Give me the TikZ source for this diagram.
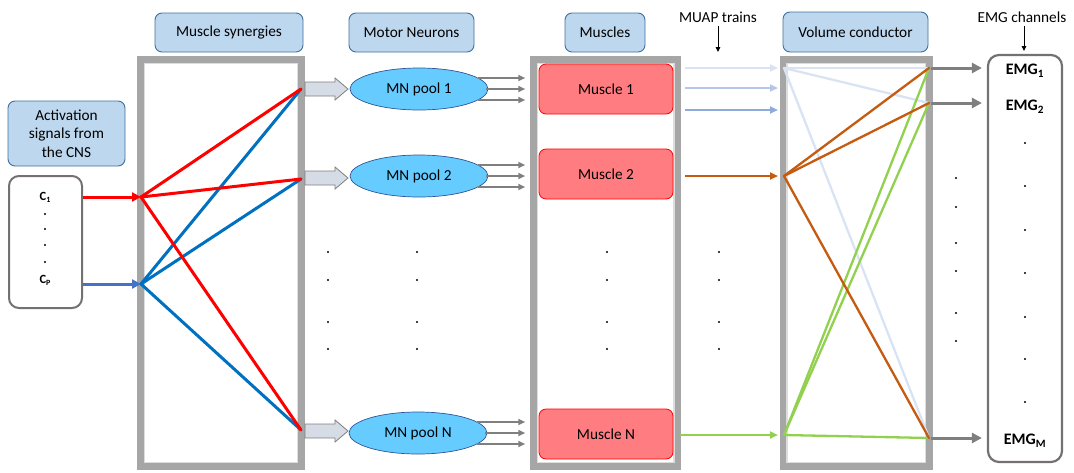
\documentclass[tikz,border=0pt]{standalone}
\usepackage{fontspec}
\setmainfont{Carlito}
\usetikzlibrary{arrows.meta,shapes.geometric}
\definecolor{lblue}{HTML}{BDD7EE}
\definecolor{lblueD}{HTML}{41719C}
\definecolor{frameG}{HTML}{A6A6A6}
\definecolor{frameL}{HTML}{DDDDDD}
\definecolor{poolF}{HTML}{66CCFF}
\definecolor{poolD}{HTML}{2F5597}
\definecolor{musF}{HTML}{FF7C80}
\definecolor{baF}{HTML}{D6DCE5}
\definecolor{grayA}{HTML}{7F7F7F}
\definecolor{boxG}{HTML}{767171}
\definecolor{synR}{HTML}{FF0000}
\definecolor{synB}{HTML}{0070C0}
\definecolor{cpB}{HTML}{4472C4}
\definecolor{mu1}{HTML}{DAE3F3}
\definecolor{mu2}{HTML}{B4C7E7}
\definecolor{mu3}{HTML}{8FAADC}
\definecolor{orng}{HTML}{C55A11}
\definecolor{grn}{HTML}{92D050}
\begin{document}
\begin{tikzpicture}[x=1pt,y=-1pt,
  txt/.style={font=\fontsize{15.3}{18.5}\selectfont},
  lbl/.style={txt, draw=lblueD, fill=lblue, rounded corners=7, line width=0.9, align=center, inner sep=0},
  framebox/.style={draw=frameG, line width=6.5, inner sep=0},
  frameinner/.style={draw=frameL, line width=1.5},
  pool/.style={txt, ellipse, draw=poolD, fill=poolF, line width=0.7, minimum width=138, minimum height=42, inner sep=0},
  musclebox/.style={txt, draw=red, fill=musF, rounded corners=7, line width=0.8, minimum width=134, minimum height=50, inner sep=0},
  blockarr/.style={draw=grayA, fill=baF, line width=0.8, line join=miter},
  grayarr/.style={draw=grayA, line width=2, -{Triangle[length=7,width=6]}},
  emgarr/.style={draw=grayA, line width=3, -{Triangle[length=10,width=10]}},
  synr/.style={draw=synR, line width=3, line cap=round},
  synb/.style={draw=synB, line width=3, line cap=round},
  vline/.style={line width=2.3, line cap=round},
  muap/.style={line width=2.3, -{Triangle[length=8,width=7]}},
  dotc/.style={circle, fill=black, inner sep=0, minimum size=2.3},
  cbx/.style={font=\fontsize{12.5}{14}\selectfont\bfseries},
  emgt/.style={font=\fontsize{16}{18}\selectfont\bfseries},
  darr/.style={draw=black, line width=0.9, -{Triangle[length=5,width=4.5]}}
]
\useasboundingbox (0,0) rectangle (1074,472);

% ---------- top labels ----------
\node[lbl, minimum width=148, minimum height=39] (lsyn) at (229,32.5) {Muscle synergies};
\node[lbl, minimum width=125, minimum height=39] (lmn) at (411.5,32.5) {Motor Neurons};
\node[lbl, minimum width=80, minimum height=39] (lmus) at (605,32.5) {Muscles};
\node[lbl, minimum width=145, minimum height=40] (lvol) at (855.5,32) {Volume conductor};
\node[txt] (lmuap) at (718,17) {MUAP trains};
\coordinate (muapT) at (718,52);
\draw[darr] (lmuap.south) -- (muapT);
\node[txt] (lemg) at (1022,17) {EMG channels};
\coordinate (emgT) at (1024,51);
\draw[darr] (lemg.south -| emgT) -- (emgT);

% ---------- activation signals ----------
\node[lbl, minimum width=117, minimum height=65] (lact) at (66.5,133.5) {Activation\\signals from\\the CNS};
\node[draw=boxG, line width=2, rounded corners=10, minimum width=73, minimum height=132, inner sep=0] (cbox) at (45.5,242) {};
\node[cbx] (c1) at (45,197) {C{\fontsize{8}{9}\selectfont\raisebox{-2pt}{1}}};
\node[cbx] (cp) at (45,280) {C{\fontsize{8}{9}\selectfont\raisebox{-2pt}{P}}};
\foreach \y [count=\i] in {214,229,245,262} \node[dotc] (cd\i) at (45,\y) {};

% ---------- frames ----------
\node[framebox, minimum width=161, minimum height=407] (synF) at (221,263) {};
\draw[frameinner] (144.5,63.5) rectangle (297.5,462.5);
\node[framebox, minimum width=144.5, minimum height=407] (musFr) at (605.75,263) {};
\draw[frameinner] (537.5,63.5) rectangle (674,462.5);
\node[framebox, minimum width=146.5, minimum height=407] (volF) at (856.25,263) {};
\draw[frameinner] (787,63.5) rectangle (925.5,462.5);

% ---------- synergies ----------
\coordinate (sR) at (141,197);
\coordinate (sB) at (141,284);
\coordinate (o1) at (301,89);
\coordinate (o2) at (301,179);
\coordinate (oN) at (301,430);
\draw[draw=synR, line width=3, -{Triangle[length=9,width=9]}] (cbox.east |- sR) -- (sR);
\draw[draw=cpB, line width=3, -{Triangle[length=9,width=9]}] (cbox.east |- sB) -- (sB);
\foreach \o in {o1,o2,oN} \draw[synb] (sB) -- (\o);
\foreach \o in {o1,o2,oN} \draw[synr] (sR) -- (\o);

% ---------- block arrows ----------
\foreach \y in {89,178,431}
  \draw[blockarr] (305,\y-7) -- (335,\y-7) -- (335,\y-11) -- (348,\y) -- (335,\y+11) -- (335,\y+7) -- (305,\y+7) -- cycle;

% ---------- MN pools ----------
\node[pool] (mn1) at (419,89) {MN pool 1};
\node[pool] (mn2) at (419,176) {MN pool 2};
\node[pool] (mnN) at (418,433) {MN pool N};
\foreach \p in {mn1,mn2,mnN} {
  \coordinate (\p a) at ([shift={(-10,-11)}]\p.east);
  \coordinate (\p b) at ([shift={(-2,0)}]\p.east);
  \coordinate (\p c) at ([shift={(-10,11)}]\p.east);
  \coordinate (\p A) at ([xshift=-5]\p a -| musFr.west);
  \coordinate (\p B) at ([xshift=-5]\p b -| musFr.west);
  \coordinate (\p C) at ([xshift=-5]\p c -| musFr.west);
  \draw[grayarr] (\p a) -- (\p A);
  \draw[grayarr] (\p b) -- (\p B);
  \draw[grayarr] (\p c) -- (\p C);
}

% ---------- muscles ----------
\node[musclebox] (m1) at (606,89) {Muscle 1};
\node[musclebox] (m2) at (606,174) {Muscle 2};
\node[musclebox] (mN) at (606,434) {Muscle N};

% ---------- volume conductor ----------
\coordinate (v1) at (784,68);
\coordinate (vO) at (784,176);
\coordinate (vG) at (784,435);
\coordinate (e1) at (929,68);
\coordinate (e2) at (929,103);
\coordinate (eM) at (929,438);
\coordinate (u1) at (685,68);
\coordinate (u2) at (685,88);
\coordinate (u3) at (685,110);
\coordinate (uO) at (685,176);
\coordinate (uG) at (680,435);
\coordinate (w2) at (784,88);
\coordinate (w3) at (784,110);
\draw[muap, draw=mu1] (u1) -- ([xshift=-6]v1);
\draw[muap, draw=mu2] (u2) -- ([xshift=-6]w2);
\draw[muap, draw=mu3] (u3) -- ([xshift=-6]w3);
\draw[muap, draw=orng] (uO) -- ([xshift=-6]vO);
\draw[muap, draw=grn] (uG) -- ([xshift=-6]vG);
\foreach \e in {e1,e2,eM} \draw[vline, draw=mu1] (v1) -- (\e);
\foreach \e in {e1,e2,eM} \draw[vline, draw=grn] (vG) -- (\e);
\foreach \e in {e1,e2,eM} \draw[vline, draw=orng] (vO) -- (\e);

% ---------- EMG ----------
\node[draw=boxG, line width=2.2, rounded corners=11, minimum width=74, minimum height=407, inner sep=0] (emg) at (1025,258.5) {};
\foreach \e in {e1,e2,eM} \draw[emgarr, shorten <=2, shorten >=5] (\e) -- (\e -| emg.west);
\node[emgt] (t1) at (1025,71) {EMG\textsubscript{1}};
\node[emgt] (t2) at (1025,107) {EMG\textsubscript{2}};
\node[emgt] (tM) at (1025,441) {EMG\textsubscript{M}};
\foreach \y [count=\i] in {143,186,230,273,317,359,402} \node[dotc] (ed\i) at (1025,\y) {};

% ---------- middle dots ----------
\foreach \x [count=\j] in {328,417,607,719} {
  \foreach \y [count=\i] in {252,280,322,349} \node[dotc] (md\j\i) at (\x,\y) {};
}
\foreach \y [count=\i] in {178,207,243,271,313,341} \node[dotc] (rd\i) at (956,\y) {};
\end{tikzpicture}
\end{document}
